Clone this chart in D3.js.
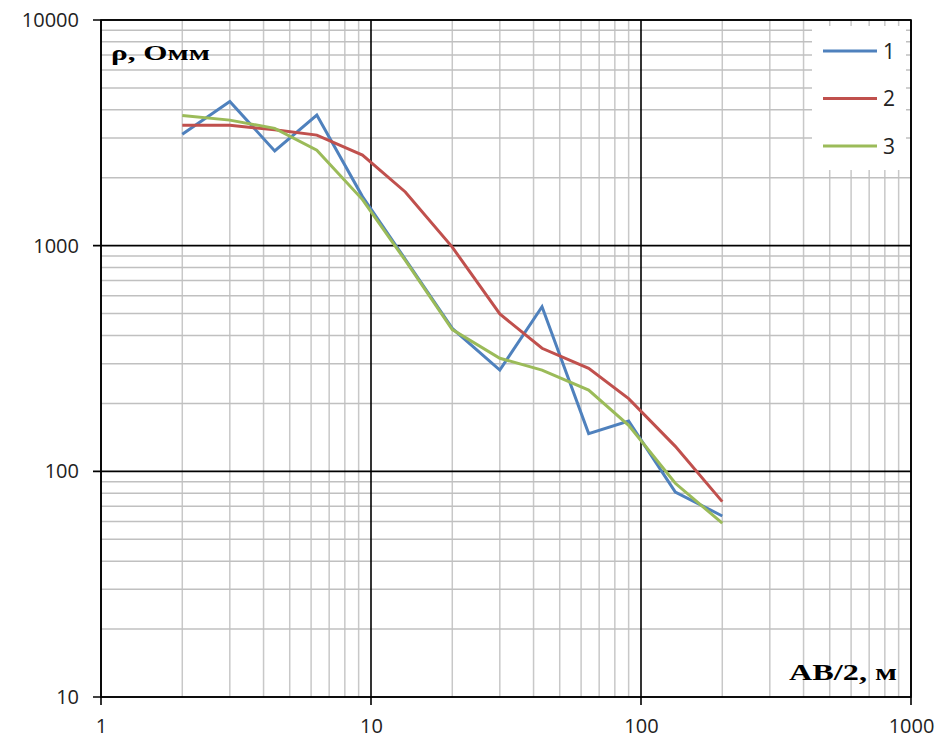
<!DOCTYPE html>
<html>
<head>
<meta charset="utf-8">
<script src="https://cdn.jsdelivr.net/npm/d3@7"></script>
<style>
  body { margin: 0; background: #fff; }
  svg { display: block; }
</style>
</head>
<body>
<div id="chart"></div>
<script>
// AB/2 spacings, m
var abHalf = [2, 3, 4.4, 6.3, 9.3, 13.4, 20, 30, 43, 64, 90, 134, 200]
// apparent resistivity, Ohm*m, curves 1..3
var rho1 = [3120, 4350, 2630, 3790, 1650, 870, 430, 281, 536, 147, 167, 81, 63.4]
var rho2 = [3420, 3420, 3260, 3090, 2520, 1730, 985, 498, 351, 286, 210, 129, 73.4]
var rho3 = [3770, 3600, 3310, 2650, 1600, 860, 425, 317, 281, 229, 160, 88.5, 58.9]
var seriesNames = ['1', '2', '3']
var colors = ['#4f81bd', '#c0504d', '#9bbb59']
var xTicks = [1, 10, 100, 1000]
var yTicks = [10, 100, 1000, 10000]

var width = 941,
    height = 742
// plot box (window.top is read-only, so use own names)
var pLeft = 101, pRight = 911, pTop = 20, pBottom = 697

var svg = d3.select('#chart').append('svg')
    .attr('width', width)
    .attr('height', height)

var x = d3.scaleLog().domain([1, 1000]).range([pLeft, pRight])
var y = d3.scaleLog().domain([10, 10000]).range([pBottom, pTop])

var isMajor = function(v) { return Math.abs(Math.log10(v) - Math.round(Math.log10(v))) < 1e-9 }

// minor grid first, major grid on top
var grid = svg.append('g')
grid.append('g').selectAll('line').data(x.ticks().filter(function(v) { return !isMajor(v) }))
  .enter().append('line')
    .attr('x1', function(d) { return x(d) }).attr('x2', function(d) { return x(d) })
    .attr('y1', pTop).attr('y2', pBottom)
    .attr('stroke', '#c8c8c8').attr('stroke-width', 1.5)
grid.append('g').selectAll('line').data(y.ticks().filter(function(v) { return !isMajor(v) }))
  .enter().append('line')
    .attr('x1', pLeft).attr('x2', pRight)
    .attr('y1', function(d) { return y(d) }).attr('y2', function(d) { return y(d) })
    .attr('stroke', '#c0c0c0').attr('stroke-width', 1.5)

// legend box hides the grid under it
svg.append('rect')
    .attr('x', 812).attr('y', 26).attr('width', 94).attr('height', 144)
    .attr('fill', '#fff')

grid.append('g').selectAll('line').data(xTicks)
  .enter().append('line')
    .attr('x1', function(d) { return x(d) }).attr('x2', function(d) { return x(d) })
    .attr('y1', pTop).attr('y2', pBottom + 8)
    .attr('stroke', '#000').attr('stroke-width', 1.6)
grid.append('g').selectAll('line').data(yTicks)
  .enter().append('line')
    .attr('x1', pLeft - 8).attr('x2', pRight)
    .attr('y1', function(d) { return y(d) }).attr('y2', function(d) { return y(d) })
    .attr('stroke', '#000').attr('stroke-width', 1.6)

// tick labels (tick lines drawn above, so drop the axis lines)
svg.append('g')
    .attr('transform', 'translate(0,' + pBottom + ')')
    .call(d3.axisBottom(x).tickValues(xTicks).tickFormat(d3.format('d')).tickSize(0).tickPadding(22))
svg.append('g')
    .attr('transform', 'translate(' + pLeft + ',0)')
    .call(d3.axisLeft(y).tickValues(yTicks).tickFormat(d3.format('d')).tickSize(0).tickPadding(22))
svg.selectAll('.domain').remove()
svg.selectAll('.tick text')
    .attr('font-family', 'Open Sans, sans-serif')
    .attr('font-size', 20)
    .attr('fill', '#222')

// curves
var line = d3.line()
    .x(function(d) { return x(d[0]) })
    .y(function(d) { return y(d[1]) })
var series = [rho1, rho2, rho3]
svg.selectAll('.curve').data(series)
  .enter().append('path')
    .attr('class', 'curve')
    .attr('d', function(vals) { return line(abHalf.map(function(a, i) { return [a, vals[i]] })) })
    .attr('fill', 'none')
    .attr('stroke', function(d, i) { return colors[i] })
    .attr('stroke-width', 3)
    .attr('stroke-linejoin', 'miter')

// plot frame
svg.append('rect')
    .attr('x', pLeft).attr('y', pTop)
    .attr('width', pRight - pLeft).attr('height', pBottom - pTop)
    .attr('fill', 'none').attr('stroke', '#000').attr('stroke-width', 1.6)

// legend
var legend = svg.append('g').selectAll('g').data(seriesNames)
  .enter().append('g')
    .attr('transform', function(d, i) { return 'translate(823,' + (51 + i * 47.5) + ')' })
legend.append('line')
    .attr('x1', 0).attr('x2', 54)
    .attr('stroke', function(d, i) { return colors[i] })
    .attr('stroke-width', 3)
legend.append('text')
    .attr('x', 60).attr('dy', '0.36em')
    .attr('font-family', 'Open Sans, sans-serif')
    .attr('font-size', 21)
    .attr('fill', '#222')
    .text(function(d) { return d })

// axis titles
svg.append('text')
    .attr('x', 111).attr('y', 60)
    .attr('font-family', 'Liberation Serif, Times New Roman, serif')
    .attr('font-weight', 'bold')
    .attr('font-size', 22)
    .attr('textLength', 99).attr('lengthAdjust', 'spacingAndGlyphs')
    .text('ρ, Омм')
svg.append('text')
    .attr('x', 789).attr('y', 680)
    .attr('font-family', 'Liberation Serif, Times New Roman, serif')
    .attr('font-weight', 'bold')
    .attr('font-size', 24)
    .attr('textLength', 108).attr('lengthAdjust', 'spacingAndGlyphs')
    .text('AB/2, м')
</script>
</body>
</html>
